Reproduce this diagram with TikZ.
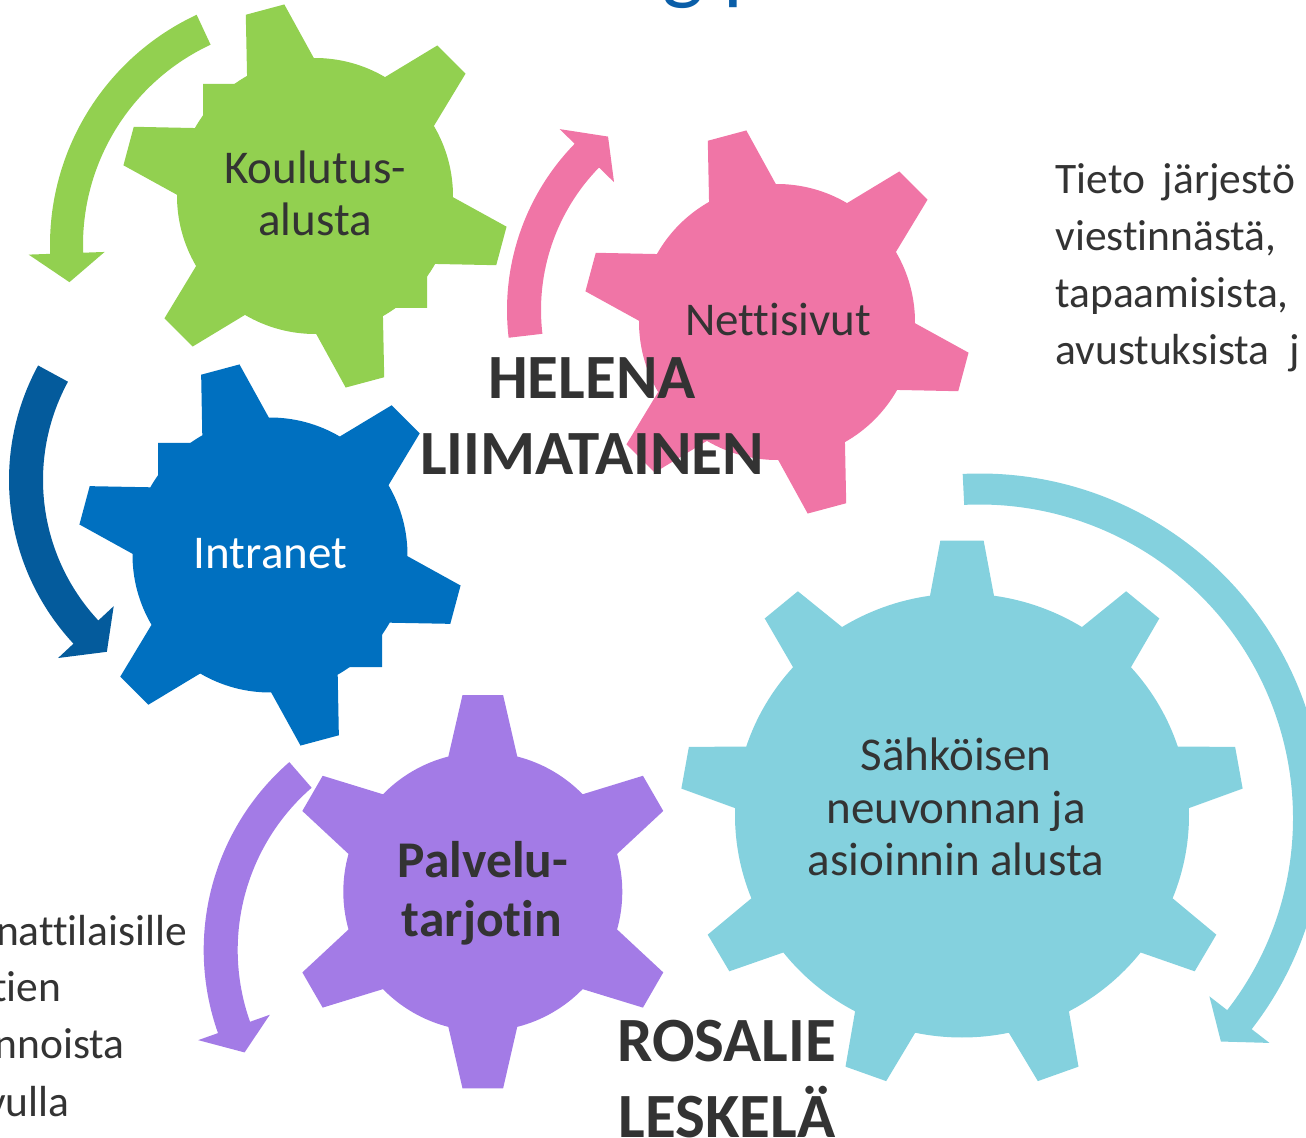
\documentclass[tikz,border=0pt]{standalone}
\usepackage{fontspec}
\setmainfont{Carlito}[Ligatures={NoCommon,NoContextual}]
\definecolor{ggreen}{HTML}{92D050}
\definecolor{gblue}{HTML}{0070C0}
\definecolor{ablue}{HTML}{045B9C}
\definecolor{gpink}{HTML}{F075A6}
\definecolor{gpurple}{HTML}{A37BE6}
\definecolor{gcyan}{HTML}{84D1DE}
\definecolor{txt}{HTML}{333333}
\definecolor{titleblue}{HTML}{0A5EA8}
% gear: [scope opts]{color}{center}{body r}{tip R}{teeth}{first angle}{base half-angle}{tip half-angle}
\newcommand\mygear[9][]{%
  \begin{scope}[shift={#3},#1]
    \pgfmathsetmacro\gstep{360/#6}
    \pgfmathtruncatemacro\glast{#6-1}
    \fill[#2] ({#7-#8}:#4) \foreach \k in {0,...,\glast} {
      -- ({#7+\k*\gstep-#8}:#4) -- ({#7+\k*\gstep-#9}:#5)
      -- ({#7+\k*\gstep+#9}:#5) -- ({#7+\k*\gstep+#8}:#4)
      arc[start angle={#7+\k*\gstep+#8}, end angle={#7+(\k+1)*\gstep-#8}, radius=#4]
    } -- cycle;
  \end{scope}}
% circular block arrow: {color}{center}{mid R}{half width}{tail angle}{head base angle}{tip angle}
\newcommand\cycarrow[7]{%
  \begin{scope}[shift={#2}]
    \pgfmathsetmacro\ro{#3+#4}\pgfmathsetmacro\ri{#3-#4}
    \pgfmathsetmacro\bo{#3+38}\pgfmathsetmacro\bi{#3-38}
    \fill[#1] (#5:\ro) arc[start angle=#5, end angle=#6, radius=\ro]
      -- (#6:\bo) -- (#7:#3) -- (#6:\bi) -- (#6:\ri)
      arc[start angle=#6, end angle=#5, radius=\ri] -- cycle;
  \end{scope}}
\tikzset{
  lbl/.style={inner sep=0, anchor=base, text=txt, font=\fontsize{23.5}{26}\selectfont},
  boldlbl/.style={inner sep=0, anchor=base, text=txt, font=\fontsize{25.75}{30}\selectfont\bfseries},
  namelbl/.style={inner sep=0, anchor=base, text=txt, font=\fontsize{31.5}{38}\selectfont\bfseries},
  sidetxt/.style={inner sep=0, text=txt, font=\fontsize{21.75}{28}\selectfont},
}
\begin{document}
\begin{tikzpicture}[x=0.5pt, y=-0.5pt]
\useasboundingbox (0,0) rectangle (1306,1138);
\clip (0,0) rectangle (1306,1138);

% title remnant
\node[inner sep=0, anchor=base west, text=titleblue, font=\fontsize{44}{50}\selectfont] (title) at (662,-6.5) {g p};

% gears
\mygear{ggreen}{(315,196)}{138}{194}{6}{-105}{14.5}{5.9}
\fill[ggreen, shift={(315,196)}] (0,0) rectangle (112,112) (0,0) rectangle (-112,-112);
\mygear{gblue}{(270,555)}{137.5}{193}{6}{-105}{14.5}{5.9}
\fill[gblue, shift={(270,555)}] (0,0) rectangle (112,112) (0,0) rectangle (-112,-112);
\mygear{gpink}{(777,322)}{138}{194}{6}{-105}{14.5}{5.9}
\mygear{gpurple}{(482.8,891.7)}{139.5}{197.7}{6}{-90}{14.3}{5.9}
\mygear[yscale=0.978]{gcyan}{(962,815.5)}{227}{282}{9}{-90}{8.1}{4.4}

% arrows
\cycarrow{ggreen}{(304,245)}{237.5}{16.5}{245}{178}{171}
\cycarrow{ablue}{(249,480)}{223}{17}{208.5}{137}{129.6}
\cycarrow{gpink}{(745,310)}{221}{17}{173.3}{224.3}{231.7}
\cycarrow{gpurple}{(452.7,950)}{232}{17}{229}{160.5}{153.8}
\cycarrow{gcyan}{(979.5,818)}{329}{15.5}{267.2}{397.8}{402.8}

% gear labels
\node[lbl] (koul1) at (315,184) {Koulutus-};
\node[lbl] (koul2) at (315,236) {alusta};
\node[lbl] (netti) at (778,336) {Nettisivut};
\node[lbl, text=white] (intra) at (270.5,568.3) {Intranet};
\node[boldlbl] (palv1) at (483,877.3) {Palvelu-};
\node[boldlbl] (palv2) at (482,936) {tarjotin};
\node[lbl] (sah1) at (956,770.5) {Sähköisen};
\node[lbl] (sah2) at (956,823) {neuvonnan ja};
\node[lbl] (sah3) at (956,875.5) {asioinnin alusta};

% names
\node[namelbl] (hel1) at (592,398.3) {HELENA};
\node[namelbl] (hel2) at (592,475) {LIIMATAINEN};
\node[namelbl] (ros1) at (726.5,1061) {ROSALIE};
\node[namelbl] (ros2) at (727,1137) {LESKELÄ};

% side texts (justified lines: slightly wider word spaces)
\node[sidetxt, anchor=base west] (r1) at (1055,193.5) {Tieto\hspace{4pt} järjestö};
\node[sidetxt, anchor=base west] (r2) at (1055,250.5) {viestinnästä,};
\node[sidetxt, anchor=base west] (r3) at (1055,307.5) {tapaamisista,};
\node[sidetxt, anchor=base west] (r4) at (1055,364.5) {avustuksista\hspace{5pt} j};
\node[sidetxt, anchor=base east] (l1) at (187.7,945) {nattilaisille};
\node[sidetxt, anchor=base east] (l2) at (61.7,1001.7) {tien};
\node[sidetxt, anchor=base east] (l3) at (125,1058.3) {nnoista};
\node[sidetxt, anchor=base east] (l4) at (70,1116.7) {vulla};
\end{tikzpicture}
\end{document}
